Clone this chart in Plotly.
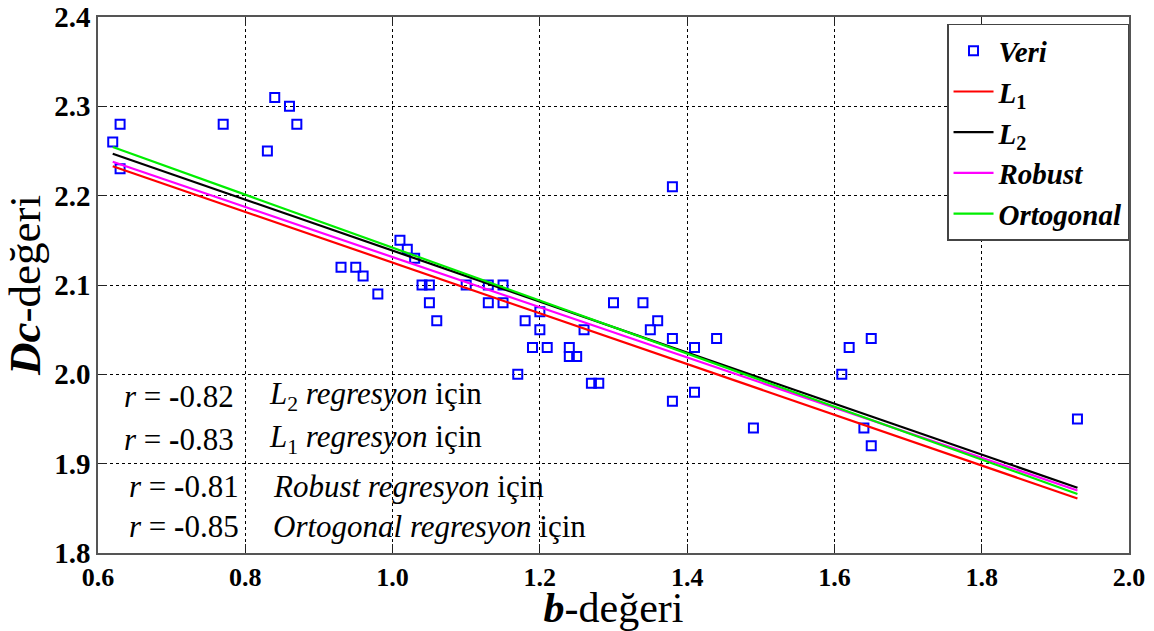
import plotly.graph_objects as go

# ---- data ----
b_values = [0.62, 0.63, 0.63, 0.77, 0.83, 0.84, 0.86, 0.87, 0.93, 0.95, 0.96, 0.98,
            1.01, 1.02, 1.03, 1.04, 1.05, 1.05, 1.06, 1.10, 1.13, 1.13, 1.15, 1.15,
            1.17, 1.18, 1.19, 1.20, 1.20, 1.21, 1.24, 1.24, 1.25, 1.26, 1.27, 1.28,
            1.30, 1.34, 1.35, 1.36, 1.38, 1.38, 1.38, 1.41, 1.41, 1.44, 1.49,
            1.61, 1.62, 1.64, 1.65, 1.65, 1.93]
dc_values = [2.26, 2.28, 2.23, 2.28, 2.25, 2.31, 2.30, 2.28, 2.12, 2.12, 2.11, 2.09,
             2.15, 2.14, 2.13, 2.10, 2.10, 2.08, 2.06, 2.10, 2.10, 2.08, 2.10, 2.08,
             2.00, 2.06, 2.03, 2.07, 2.05, 2.03, 2.03, 2.02, 2.02, 2.05, 1.99, 1.99,
             2.08, 2.08, 2.05, 2.06, 2.21, 2.04, 1.97, 2.03, 1.98, 2.04, 1.94,
             2.00, 2.03, 1.94, 2.04, 1.92, 1.95]

line_x = [0.62, 1.93]
l1_y = [2.233, 1.861]
l2_y = [2.247, 1.873]
robust_y = [2.238, 1.870]
orto_y = [2.2545, 1.866]

x_ticks = [0.6, 0.8, 1.0, 1.2, 1.4, 1.6, 1.8, 2.0]
y_ticks = [1.8, 1.9, 2.0, 2.1, 2.2, 2.3, 2.4]

r_labels = ["<i>r</i> = <b>-</b>0.82", "<i>r</i> = <b>-</b>0.83",
            "<i>r</i> = <b>-</b>0.81", "<i>r</i> = <b>-</b>0.85"]
method_labels = ["<i>L</i><sub>2</sub> <i>regresyon</i> için",
                 "<i>L</i><sub>1</sub> <i>regresyon</i> için",
                 "<i>Robust regresyon</i> için",
                 "<i>Ortogonal regresyon</i> için"]

FONT = "Times New Roman, Liberation Serif, serif"

fig = go.Figure()
fig.add_trace(go.Scatter(x=b_values, y=dc_values, mode="markers", name="<b><i>Veri</i></b>",
                         marker=dict(symbol="square-open", size=9, color="#0000ff",
                                     line=dict(width=2, color="#0000ff"))))
fig.add_trace(go.Scatter(x=line_x, y=l1_y, mode="lines", name="<b><i>L</i><sub>1</sub></b>",
                         line=dict(color="#ff0000", width=2.2)))
fig.add_trace(go.Scatter(x=line_x, y=l2_y, mode="lines", name="<b><i>L</i><sub>2</sub></b>",
                         line=dict(color="#000000", width=2.2)))
fig.add_trace(go.Scatter(x=line_x, y=robust_y, mode="lines", name="<b><i>Robust</i></b>",
                         line=dict(color="#ff00ff", width=2.2)))
fig.add_trace(go.Scatter(x=line_x, y=orto_y, mode="lines", name="<b><i>Ortogonal</i></b>",
                         line=dict(color="#00ee00", width=2.2)))

# layout geometry (pixels)
L, R, T, B = 98, 1129, 17, 553
W, H = 1154, 631

def px2paper(px, py):
    return (px - L) / (R - L), (B - py) / (B - T)

annotations = []
rows_y = [396, 439, 486, 526]
r_x = [122, 122, 127, 127]
m_x = [267, 267, 271, 271]
for i in range(4):
    xp, yp = px2paper(r_x[i], rows_y[i])
    annotations.append(dict(x=xp, y=yp, xref="paper", yref="paper", text=r_labels[i],
                            showarrow=False, xanchor="left", yanchor="middle",
                            width=125, height=40, align="left", valign="middle",
                            font=dict(family=FONT, size=31, color="black")))
    xp, yp = px2paper(m_x[i], rows_y[i])
    annotations.append(dict(x=xp, y=yp, xref="paper", yref="paper", text=method_labels[i],
                            showarrow=False, xanchor="left", yanchor="middle",
                            width=330, height=40, align="left", valign="middle",
                            font=dict(family=FONT, size=31, color="black")))

axis_common = dict(
    showgrid=True, gridcolor="#000000", griddash="3px,3px", gridwidth=1,
    showline=True, linecolor="#555555", linewidth=1.6, mirror="allticks",
    ticks="inside", ticklen=9, tickcolor="#222222", tickwidth=1.2,
    zeroline=False, automargin=False,
)

fig.update_layout(
    width=W, height=H,
    margin=dict(l=L, r=W - R, t=T, b=H - B),
    plot_bgcolor="white", paper_bgcolor="white",
    font=dict(family=FONT, color="black"),
    showlegend=True,
    legend=dict(x=0.8235, y=0.987, xanchor="left", yanchor="top", itemwidth=40,
                bgcolor="white", bordercolor="#444444", borderwidth=1.5,
                font=dict(family=FONT, size=29, color="black")),
    annotations=annotations,
)
fig.update_xaxes(range=[0.6, 2.0], tickvals=x_ticks, ticktext=[f"{v:.1f}" for v in x_ticks],
                 tickfont=dict(family=FONT, size=26, color="black", weight="bold"),
                 title=dict(text="<b><i>b</i></b>-değeri", font=dict(family=FONT, size=42), standoff=0),
                 **axis_common)
fig.update_yaxes(range=[1.8, 2.4], tickvals=y_ticks, ticktext=[f"{v:.1f}" for v in y_ticks],
                 tickfont=dict(family=FONT, size=29, color="black", weight="bold"),
                 title=dict(text="<b><i>Dc</i></b>-değeri", font=dict(family=FONT, size=45), standoff=8),
                 **axis_common)

fig.write_html("out.html")
